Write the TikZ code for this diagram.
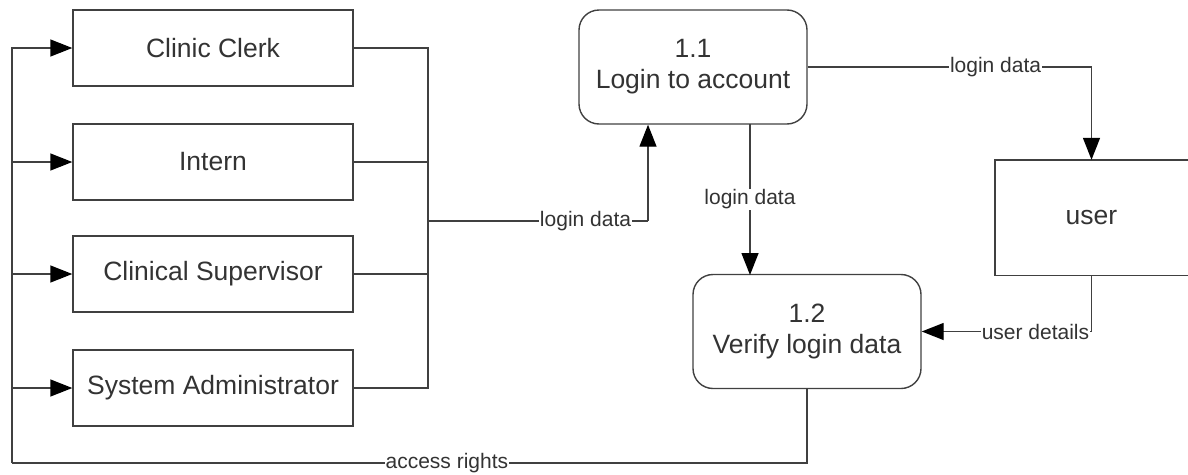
\documentclass[tikz,border=0pt]{standalone}
\usepackage{fontspec}
\setmainfont{Liberation Sans}
\usetikzlibrary{arrows.meta}
\begin{document}
\begin{tikzpicture}[x=1pt,y=-1pt,
 line/.style={draw=black!75, line width=1.4pt},
 arr/.style={line, -{Triangle[length=22pt,width=17pt,color=black]}},
 entity/.style={draw=black!75, line width=1.4pt, minimum width=280pt, minimum height=76pt, font=\fontsize{26.5}{31}\selectfont, text=black!80, inner sep=0pt},
 proc/.style={entity, rounded corners=20pt, minimum width=228pt, minimum height=114pt, align=center},
 lbl/.style={fill=white, inner sep=1pt, font=\fontsize{21}{24}\selectfont, text=black!80}]
\useasboundingbox (0,0) rectangle (1188,474);
\node[entity] (cc) at (213,48) {Clinic Clerk};
\node[entity] (in) at (213,162) {Intern};
\node[entity] (cs) at (213,274) {Clinical Supervisor};
\node[entity] (sa) at (213,388) {System Administrator};
\node[proc] (p11) at (693,67) {1.1\\Login to account};
\node[proc] (p12) at (807,331.5) {1.2\\Verify login data};
\node[minimum width=193pt, minimum height=115pt, inner sep=0pt, font=\fontsize{26.5}{31}\selectfont, text=black!80] (user) at (1091.5,217.5) {user};
\draw[line] (user.north east) -- (user.north west) -- (user.south west) -- (user.south east);
\coordinate (lb) at (12,463);
\coordinate (rb) at (428,221);
\coordinate (up) at (648,221);
\coordinate (d11) at (750,124);
\coordinate (d12) at (750,275);
\draw[line] (p12.south) |- node[lbl,pos=0.7265]{access rights} (lb);
\draw[arr] (lb) -- (cc.west -| lb) -- (cc.west);
\draw[arr] (in.west -| lb) -- (in.west);
\draw[arr] (cs.west -| lb) -- (cs.west);
\draw[arr] (sa.west -| lb) -- (sa.west);
\draw[line] (cc.east) -| (rb) |- (sa.east);
\draw[line] (in.east) -- (in.east -| rb);
\draw[line] (cs.east) -- (cs.east -| rb);
\draw[line] (rb) -- node[lbl,pos=0.716]{login data} (up);
\draw[arr] (up) -- (up |- p11.south);
\draw[arr] (p11.east) -| node[lbl,pos=0.331]{login data} (user.north);
\draw[arr] (d11) -- node[lbl]{login data} (d12);
\draw[arr] (user.south) |- node[lbl,pos=0.665]{user details} (p12.east);
\end{tikzpicture}
\end{document}
